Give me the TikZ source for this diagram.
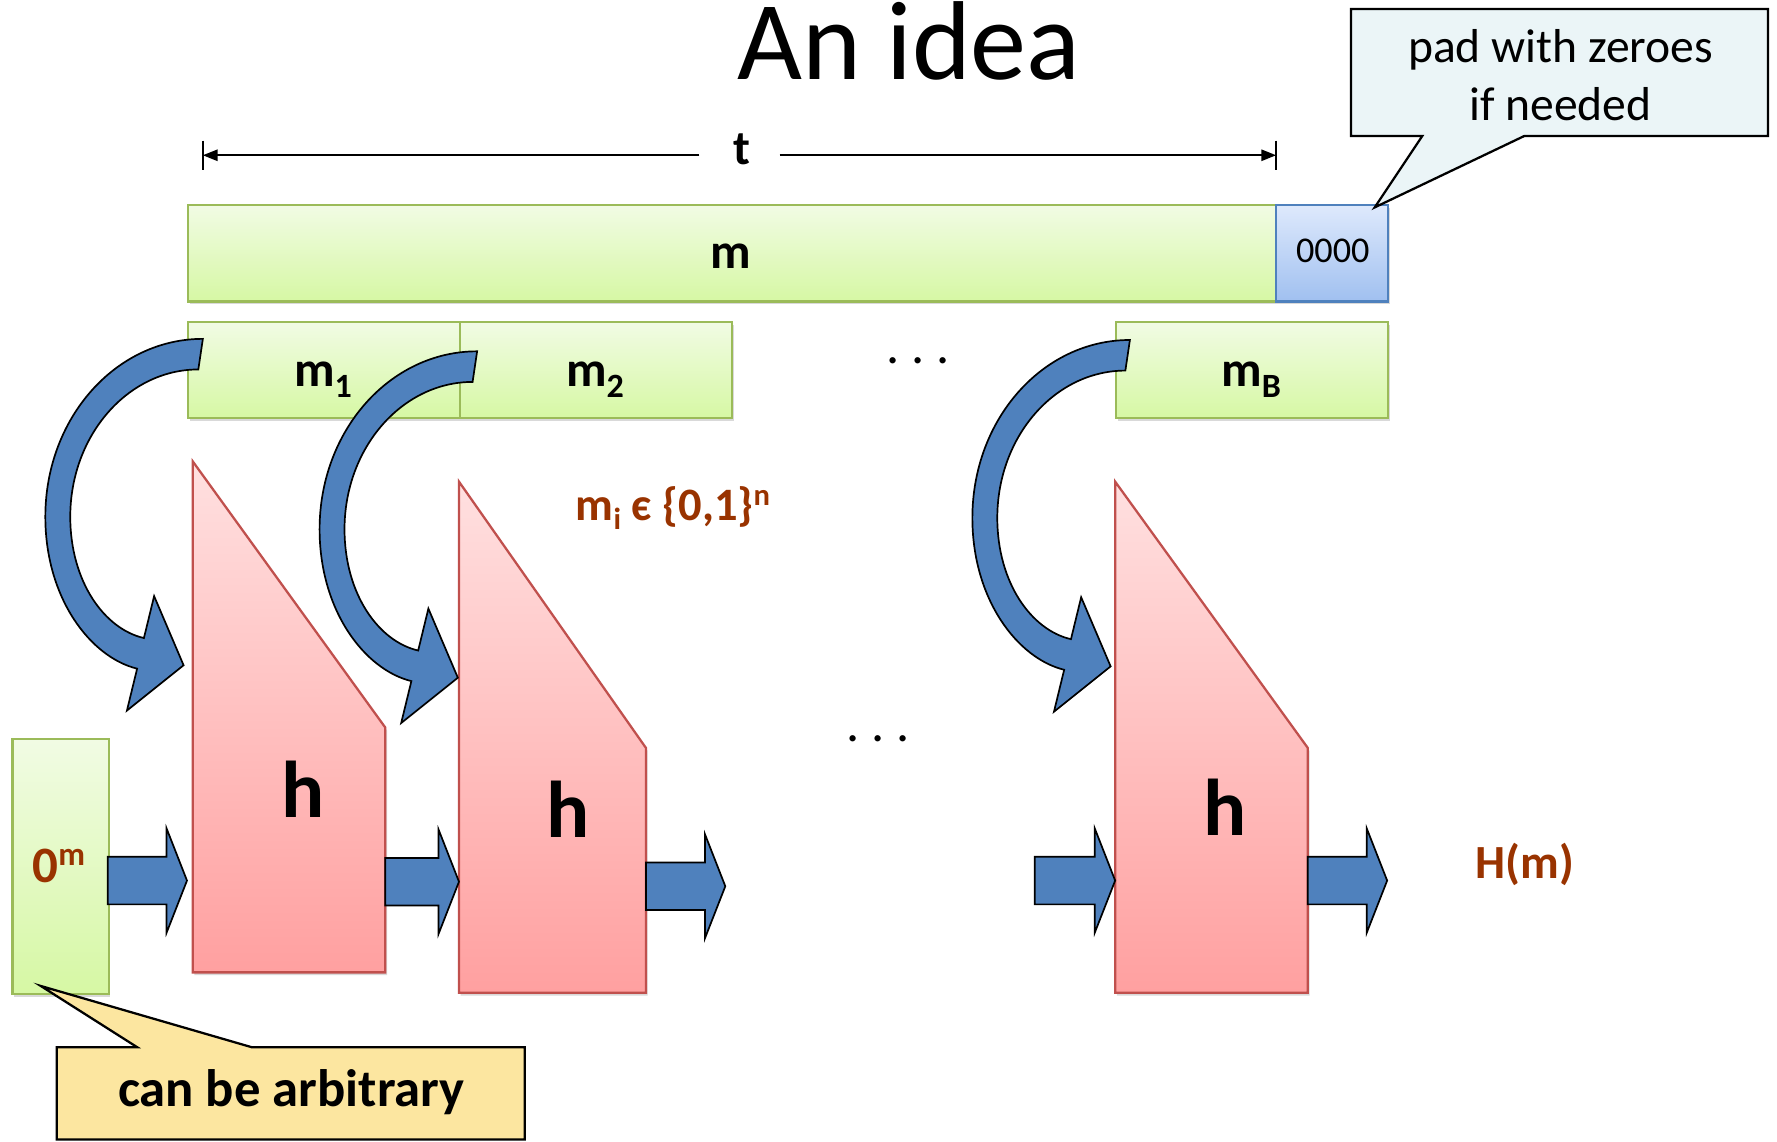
\documentclass[tikz,border=0pt]{standalone}
\usepackage{fontspec}
\setmainfont{Carlito}
\usetikzlibrary{arrows.meta,shadows}
\definecolor{gtop}{RGB}{241,251,228}
\definecolor{gbot}{RGB}{214,248,164}
\definecolor{gline}{RGB}{155,187,89}
\definecolor{btop}{RGB}{222,233,252}
\definecolor{bbot}{RGB}{160,192,240}
\definecolor{bline}{RGB}{79,129,189}
\definecolor{ptop}{RGB}{255,224,224}
\definecolor{pbot}{RGB}{255,160,160}
\definecolor{pline}{RGB}{192,80,77}
\definecolor{arrblue}{RGB}{79,129,189}
\definecolor{brn}{RGB}{153,51,0}
\definecolor{calloutA}{RGB}{235,245,247}
\definecolor{calloutB}{RGB}{252,230,160}
\newcommand\fsz[1]{\fontsize{#1}{#1}\selectfont}
\newcommand\hblockarrow[3]{%
  \path[bigarrow] (#1,#3-21) -- (#2-18,#3-21) -- (#2-18,#3-46) -- (#2,#3)
    -- (#2-18,#3+46) -- (#2-18,#3+21) -- (#1,#3+21) -- cycle;}
\begin{document}
\begin{tikzpicture}[x=1pt,y=-1pt,
  boxshadow/.style={drop shadow={shadow xshift=1.5pt,shadow yshift=-2.5pt,opacity=0.3}},
  greenbox/.style={draw=gline, line width=2pt, top color=gtop, bottom color=gbot, inner sep=0pt, anchor=north west, boxshadow},
  bluebox/.style={draw=bline, line width=2pt, top color=btop, bottom color=bbot, inner sep=0pt, anchor=north west, boxshadow},
  hblock/.style={draw=pline, line width=2pt, top color=ptop, bottom color=pbot, boxshadow},
  bigarrow/.style={draw=black, line width=1.5pt, fill=arrblue, line join=miter},
  callout/.style={draw=black, line width=2pt},
  lbl/.style={font=\bfseries\fsz{44}, inner sep=0pt, anchor=base},
  hlbl/.style={font=\bfseries\fsz{71}, inner sep=0pt, anchor=base},
  brnlbl/.style={font=\bfseries\fsz{41}, text=brn, inner sep=0pt, anchor=base},
  dimline/.style={line width=1.5pt},
  curvarrow/.pic={
    \path[bigarrow] (179,299) .. controls (102,299) and (40,369) .. (40,456)
      .. controls (40,528) and (80,580) .. (121,590)
      -- (112,627) -- (162,587) -- (136,526) -- (127,563)
      .. controls (92,555) and (62,513) .. (62,456)
      .. controls (62,384) and (113,326) .. (175,326) -- cycle;
  }
]
\useasboundingbox (0,0) rectangle (1568,1007);

% title
\node[font=\fsz{99}, inner sep=0pt, anchor=base] (title) at (802,70) {An idea};

% dimension line t
\coordinate (tl) at (179,137);
\coordinate (tr) at (1126,137);
\coordinate (tgl) at (617,137);
\coordinate (tgr) at (688,137);
\node[font=\bfseries\fsz{43}, inner sep=0pt, anchor=base] (t) at (655,145) {t};
\draw[dimline,-{Triangle[length=13pt,width=10pt]}] (tgl) -- (tl);
\draw[dimline,-{Triangle[length=13pt,width=10pt]}] (tgr) -- (tr);
\draw[dimline] ([yshift=13pt]tl) -- ([yshift=-13pt]tl);
\draw[dimline] ([yshift=13pt]tr) -- ([yshift=-13pt]tr);

% message boxes
\node[greenbox, minimum width=960pt, minimum height=85pt] (m) at (165,180) {};
\node[bluebox, minimum width=99pt, minimum height=85pt] (pad) at (1125,180) {};
\node[lbl] (mlbl) at (645,237) {m};
\node[font=\fsz{32}, inner sep=0pt, anchor=base] (padlbl) at (1176,232) {0000};

\node[greenbox, minimum width=240pt, minimum height=85pt] (m1) at (165,283) {};
\node[greenbox, minimum width=240pt, minimum height=85pt] (m2) at (405,283) {};
\node[greenbox, minimum width=240pt, minimum height=85pt] (mB) at (984,283) {};
\node[lbl] (m1lbl) at (285,341) {m\raisebox{-10pt}{\fsz{30}1}};
\node[lbl] (m2lbl) at (525,341) {m\raisebox{-10pt}{\fsz{30}2}};
\node[lbl] (mBlbl) at (1104,341) {m\raisebox{-10pt}{\fsz{30}B}};
\node[font=\fsz{46}\frenchspacing, inner sep=0pt] (dots1) at (810,318) {. . .};

% pad callout
\path[callout, fill=calloutA] (1192,8) -- (1560,8) -- (1560,120) -- (1345,120)
  -- (1213,183) -- (1255,120) -- (1192,120) -- cycle;
\node[font={\fontsize{42}{51}\selectfont}, align=center, inner sep=0pt] (padtxt) at (1377,66) {pad with zeroes\\if needed};

% IV box
\node[greenbox, minimum width=85pt, minimum height=225pt] (zm) at (10,651) {};
\node[brnlbl, font=\bfseries\fsz{45}] (zmlbl) at (52,779) {0\raisebox{15pt}{\fsz{29}m}};

% h blocks
\path[hblock] (170,407) -- (170,858) -- (340,858) -- (340,642) -- cycle;
\path[hblock] (405,425) -- (405,876) -- (570,876) -- (570,660) -- cycle;
\path[hblock] (984,425) -- (984,876) -- (1154,876) -- (1154,660) -- cycle;
\node[hlbl] (h1) at (267,721) {h};
\node[hlbl] (h2) at (501,739) {h};
\node[hlbl] (h3) at (1081,737) {h};

\node[brnlbl, anchor=base west] (mi) at (508,459) {m\raisebox{-8pt}{\fsz{27}i} є \{0,1\}\raisebox{13pt}{\fsz{27}n}};
\node[font=\fsz{46}\frenchspacing, inner sep=0pt] (dots2) at (775,652) {. . .};
\node[brnlbl, font=\bfseries\fsz{42}, anchor=base west] (Hm) at (1302,775) {H(m)};

% horizontal block arrows
\hblockarrow{95}{165}{777}
\hblockarrow{340}{405}{778}
\hblockarrow{570}{640}{782}
\hblockarrow{913}{984}{777}
\hblockarrow{1154}{1224}{777}

% curved block arrows
\pic at (0,0) {curvarrow};
\pic at (242,11) {curvarrow};
\pic at (818,1) {curvarrow};

% arbitrary callout
\path[callout, fill=calloutB] (50,1005.5) -- (50,924) -- (121,924) -- (36,870)
  -- (222,924) -- (463,924) -- (463,1005.5) -- cycle;
\node[font=\bfseries\fsz{46.5}, inner sep=0pt, anchor=base] (arb) at (257,976) {can be arbitrary};
\end{tikzpicture}
\end{document}
